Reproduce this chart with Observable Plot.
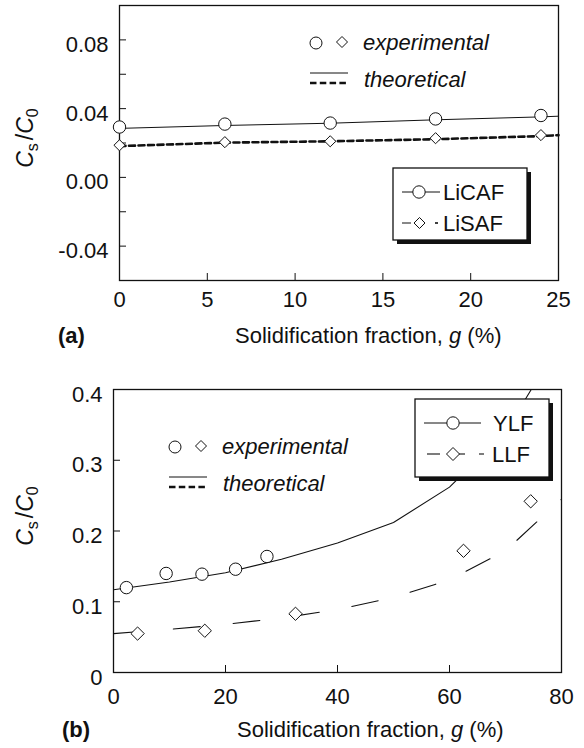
<!DOCTYPE html>
<html><head><meta charset="utf-8">
<script src="https://cdn.jsdelivr.net/npm/d3@7"></script>
<script src="https://cdn.jsdelivr.net/npm/@observablehq/plot@0.6"></script>
<style>
body{margin:0;background:#fff;}
#wrap{position:relative;width:584px;height:748px;overflow:hidden;}
#wrap svg{position:absolute;left:0;overflow:visible;}
</style></head><body><div id="wrap"></div>
<script>
// ---------- Panel (a) ----------
const aExpX = [0, 6, 12, 18, 24];
const licafExp = [0.0293, 0.031, 0.0316, 0.034, 0.036];
const lisafExp = [0.0187, 0.0205, 0.021, 0.0228, 0.0246];
const aTheoX = [0, 6, 12, 18, 24, 25];
const licafTheo = [0.0285, 0.0302, 0.0315, 0.0335, 0.0352, 0.0356];
const lisafTheo = [0.0182, 0.0202, 0.021, 0.0222, 0.024, 0.0246];
const aXTicks = [0, 5, 10, 15, 20, 25];
const aXMarks = [5, 10, 15, 20];
const aYTicks = [-0.04, 0, 0.04, 0.08];
const aYMarks = [-0.04, -0.02, 0, 0.02, 0.04, 0.06, 0.08];
const aSeries = ["LiCAF", "LiSAF"];
// ---------- Panel (b) ----------
const ylfExpX = [2.3, 9.4, 15.8, 21.8, 27.4];
const ylfExp = [0.120, 0.140, 0.139, 0.146, 0.164];
const llfExpX = [4.3, 16.3, 32.5, 62.5, 74.5];
const llfExp = [0.055, 0.059, 0.083, 0.172, 0.242];
const ylfTheoX = [0, 10, 20, 30, 40, 50, 60, 70, 74.6];
const ylfTheo = [0.117, 0.128, 0.141, 0.160, 0.183, 0.212, 0.262, 0.340, 0.400];
const llfTheoX = [0, 10, 20, 30, 40, 50, 60, 70, 80];
const llfTheo = [0.055, 0.061, 0.068, 0.077, 0.089, 0.106, 0.131, 0.172, 0.245];
const bXTicks = [0, 20, 40, 60, 80];
const bXMarks = [20, 40, 60];
const bYTicks = [0, 0.1, 0.2, 0.3, 0.4];
const bYMarks = [0.1, 0.2, 0.3];
const bSeries = ["YLF", "LLF"];
const xTitle = ["Solidification fraction, ", "g", " (%)"];
const annot = ["experimental", "theoretical"];

const FONT = '"Liberation Sans", Arial, Helvetica, sans-serif';
const FS = 22;
const INK = "#111";
const pts = (xs, ys) => xs.map((x, i) => ({x, y: ys[i]}));

function panel({W, H, mL, mR, mT, mB, xDom, yDom, xTicks, xMarks, yTicks, yMarks, yFmt, xPad, lines, dots}) {
  const fw = W - mL - mR, fh = H - mT - mB;
  return Plot.plot({
    width: W, height: H, marginLeft: mL, marginRight: mR, marginTop: mT, marginBottom: mB,
    x: {domain: xDom}, y: {domain: yDom},
    style: {fontFamily: FONT, fontSize: FS + "px", color: INK, background: "transparent", overflow: "visible"},
    marks: [
      Plot.frame({stroke: INK, strokeWidth: 1.3}),
      Plot.tickY(yMarks, {y: d => d, insetRight: fw - 7, stroke: INK, strokeWidth: 1}),
      Plot.tickX(xMarks, {x: d => d, insetTop: fh - 7, stroke: INK, strokeWidth: 1}),
      Plot.axisY(yTicks, {tickSize: 0, tickPadding: 11, dy: 5, tickFormat: yFmt, label: null, fill: INK}),
      Plot.axisX(xTicks, {tickSize: 0, tickPadding: xPad, tickFormat: d => String(d), label: null, fill: INK}),
      ...lines,
      ...dots
    ]
  });
}

const wrap = document.getElementById("wrap");

// Panel (a)
const plotA = panel({
  W: 584, H: 350, mL: 119, mR: 26, mT: 5, mB: 70,
  xDom: [0, 25], yDom: [-0.06, 0.10],
  xTicks: aXTicks, xMarks: aXMarks, yTicks: aYTicks, yMarks: aYMarks,
  yFmt: d => d.toFixed(2), xPad: 11,
  lines: [
    Plot.line(pts(aTheoX, licafTheo), {x: "x", y: "y", stroke: INK, strokeWidth: 1}),
    Plot.line(pts(aTheoX, lisafTheo), {x: "x", y: "y", stroke: INK, strokeWidth: 2.6, strokeDasharray: "6,3.5"})
  ],
  dots: [
    Plot.dot(pts(aExpX, licafExp), {x: "x", y: "y", r: 6.2, symbol: "circle", fill: "white", stroke: INK, strokeWidth: 1}),
    Plot.dot(pts(aExpX, lisafExp), {x: "x", y: "y", r: 5, symbol: "diamond2", fill: "white", stroke: INK, strokeWidth: 1})
  ]
});
plotA.style.top = "0px";
wrap.appendChild(plotA);

// Panel (b)
const plotB = panel({
  W: 584, H: 398, mL: 113, mR: 23, mT: 39, mB: 76,
  xDom: [0, 80], yDom: [0, 0.4],
  xTicks: bXTicks, xMarks: bXMarks, yTicks: bYTicks, yMarks: bYMarks,
  yFmt: d => d === 0 ? "0" : d.toFixed(1), xPad: 16,
  lines: [
    Plot.line(pts(ylfTheoX, ylfTheo), {x: "x", y: "y", stroke: INK, strokeWidth: 1.1}),
    Plot.line(pts(llfTheoX, llfTheo), {x: "x", y: "y", stroke: INK, strokeWidth: 1.1, strokeDasharray: "27,33"})
  ],
  dots: [
    Plot.dot(pts(ylfExpX, ylfExp), {x: "x", y: "y", r: 6.2, symbol: "circle", fill: "white", stroke: INK, strokeWidth: 1}),
    Plot.dot(pts(llfExpX, llfExp), {x: "x", y: "y", r: 6, symbol: "diamond2", fill: "white", stroke: INK, strokeWidth: 1})
  ]
});
plotB.style.top = "350px";
wrap.appendChild(plotB);

// ---------- decorations ----------
function diamond(g, cx, cy, h) {
  g.append("path").attr("d", `M${cx},${cy - h}L${cx + h},${cy}L${cx},${cy + h}L${cx - h},${cy}Z`)
    .attr("fill", "white").attr("stroke", INK).attr("stroke-width", 1);
}
function circle(g, cx, cy, r) {
  g.append("circle").attr("cx", cx).attr("cy", cy).attr("r", r).attr("fill", "white").attr("stroke", INK).attr("stroke-width", 1);
}
function seg(g, x1, x2, y, w, dash) {
  const l = g.append("line").attr("x1", x1).attr("x2", x2).attr("y1", y).attr("y2", y)
    .attr("stroke", INK).attr("stroke-width", w);
  if (dash) l.attr("stroke-dasharray", dash);
}
function text(g, x, y, str, opts = {}) {
  const t = g.append("text").attr("x", x).attr("y", y).attr("fill", INK)
    .attr("font-family", FONT).attr("font-size", opts.size || FS)
    .attr("text-anchor", opts.anchor || "start");
  if (opts.italic) t.attr("font-style", "italic");
  if (opts.bold) t.attr("font-weight", "bold");
  t.text(str);
  return t;
}
function xLabel(g, x, y) {
  const t = g.append("text").attr("x", x).attr("y", y).attr("fill", INK)
    .attr("font-family", FONT).attr("font-size", FS).attr("text-anchor", "start");
  t.append("tspan").text(xTitle[0]);
  t.append("tspan").attr("font-style", "italic").text(xTitle[1]);
  t.append("tspan").text(xTitle[2]);
}
function yLabel(g, x, y) {
  const t = g.append("text").attr("transform", `translate(${x},${y}) rotate(-90)`)
    .attr("text-anchor", "middle").attr("fill", INK).attr("font-family", FONT).attr("font-size", 23);
  t.append("tspan").attr("font-style", "italic").text("C");
  t.append("tspan").attr("font-size", 16).attr("dy", 5).text("s");
  t.append("tspan").attr("dy", -5).attr("dx", 3).text("/");
  t.append("tspan").attr("font-style", "italic").text("C");
  t.append("tspan").attr("font-size", 16).attr("dy", 5).text("0");
}
function legendBox(g, x, y, w, h) {
  g.append("rect").attr("x", x + 4).attr("y", y + 4).attr("width", w).attr("height", h).attr("fill", INK);
  g.append("rect").attr("x", x).attr("y", y).attr("width", w).attr("height", h)
    .attr("fill", "white").attr("stroke", INK).attr("stroke-width", 1.3);
}
function annotation(g, cx, cy, tx) {
  circle(g, cx, cy, 6);
  diamond(g, cx + 26, cy - 1, 5.5);
  text(g, tx, cy + 7, annot[0], {italic: true});
  seg(g, cx - 6, cx + 32, cy + 30, 1);
  seg(g, cx - 6, cx + 32, cy + 40, 2.6, "6.5,3.3");
  text(g, tx + 1, cy + 44, annot[1], {italic: true});
}

// panel (a) decorations
const sa = d3.select(plotA);
annotation(sa, 316, 43, 363);
legendBox(sa, 393, 168, 134, 72);
seg(sa, 402, 440, 192, 1); circle(sa, 419, 192, 6.2); text(sa, 443, 200, aSeries[0]);
seg(sa, 402, 411, 223, 1); seg(sa, 435, 438, 223, 1.6); diamond(sa, 419.5, 223, 5.5); text(sa, 443, 231, aSeries[1]);
xLabel(sa, 235, 343);
text(sa, 58, 343, "(a)", {bold: true});
yLabel(sa, 33, 138);

// panel (b) decorations (local y = page y - 350)
const sb = d3.select(plotB);
annotation(sb, 175, 97, 222);
legendBox(sb, 415, 49, 134, 78);
seg(sb, 424, 481, 73, 1); circle(sb, 453, 73, 6.2); text(sb, 493, 81, bSeries[0]);
seg(sb, 427, 440, 104, 1.1); seg(sb, 459, 465, 104, 1.1); seg(sb, 479, 484, 104, 1.1); diamond(sb, 453, 104, 6.5); text(sb, 492, 112, bSeries[1]);
xLabel(sb, 237, 387);
text(sb, 62, 387, "(b)", {bold: true});
yLabel(sb, 33, 166);
</script></body></html>
